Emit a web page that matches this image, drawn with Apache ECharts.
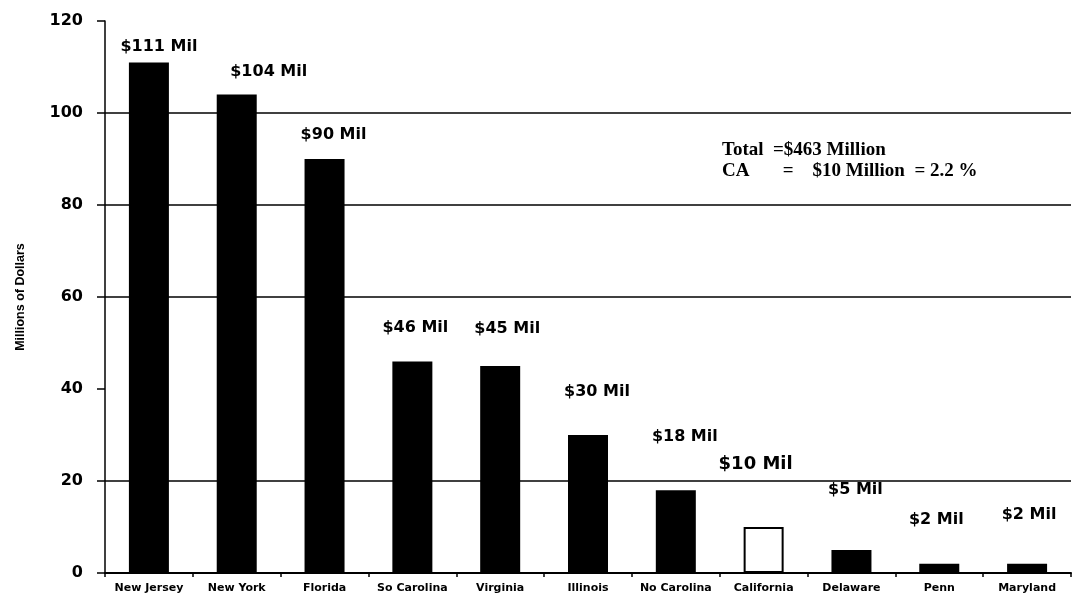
<!DOCTYPE html>
<html>
<head>
<meta charset="utf-8">
<script src="https://cdn.jsdelivr.net/npm/echarts@6/dist/echarts.min.js"></script>
<style>
html,body{margin:0;padding:0;background:#fff;}
#chart{width:1076px;height:599px;}
</style>
</head>
<body>
<div id="chart"></div>
<script>
// ---- data ----
const states = ['New Jersey','New York','Florida','So Carolina','Virginia','Illinois','No Carolina','California','Delaware','Penn','Maryland'];
const spending = [111, 104, 90, 46, 45, 30, 18, 10, 5, 2, 2];
const valueLabels = ['$111 Mil','$104 Mil','$90 Mil','$46 Mil','$45 Mil','$30 Mil','$18 Mil','$10 Mil','$5 Mil','$2 Mil','$2 Mil'];
// heights (in millions) at which the value labels sit on the picture
const labelHeights = [114.3, 108.9, 95.2, 53.3, 53.0, 39.3, 29.6, 23.7, 18.0, 11.5, 12.6];
const yTicks = [0, 20, 40, 60, 80, 100, 120];
const drawnGridLines = [20, 60, 80, 100];
const highlightState = 'California';
const noteLines = ['Total  =$463 Million', 'CA       =    $10 Million  = 2.2 %'];

// ---- presentation ----
const labelDx = [10, 32, 9, 3, 7, 9, 9, -8, 4, -3, 2];

const chart = echarts.init(document.getElementById('chart'));
const option = {
  animation: false,
  backgroundColor: '#fff',
  grid: { left: 105, right: 5, top: 21, bottom: 26, containLabel: false, outerBoundsMode: 'none' },
  xAxis: {
    type: 'category',
    data: states,
    boundaryGap: true,
    axisLine: { show: true, lineStyle: { color: '#000', width: 2 } },
    axisTick: { show: true, length: 4, lineStyle: { color: '#000', width: 1.5 } },
    axisLabel: {
      color: '#000', fontFamily: 'DejaVu Sans', fontWeight: 'bold', fontSize: 11,
      margin: 10, interval: 0
    },
    splitLine: { show: false }
  },
  yAxis: {
    type: 'value',
    min: yTicks[0], max: yTicks[yTicks.length - 1], interval: yTicks[1] - yTicks[0],
    name: 'Millions of Dollars',
    nameLocation: 'middle',
    nameGap: 78,
    nameRotate: 90,
    nameTextStyle: {
      color: '#000', fontFamily: '"Liberation Sans", Arial, sans-serif',
      fontWeight: 'bold', fontSize: 12.5
    },
    axisLine: { show: true, lineStyle: { color: '#000', width: 1.5 } },
    axisTick: { show: true, inside: false, length: 8, lineStyle: { color: '#000', width: 1.5 } },
    axisLabel: {
      color: '#000', fontFamily: 'DejaVu Sans', fontWeight: 'bold', fontSize: 16, margin: 22,
      formatter: function (v) { return yTicks.indexOf(v) >= 0 ? String(v) : ''; }
    },
    splitLine: { show: false }
  },
  series: [
    {
      type: 'bar',
      barWidth: 40,
      data: spending.map(function (v, i) {
        const hl = states[i] === highlightState;
        return {
          value: v,
          itemStyle: hl ? { color: '#fff', borderColor: '#000', borderWidth: 2 } : { color: '#000' }
        };
      }),
      markLine: {
        silent: true,
        symbol: 'none',
        label: { show: false },
        lineStyle: { color: '#000', width: 1.5, type: 'solid' },
        data: drawnGridLines.map(function (v) { return { yAxis: v }; })
      },
      z: 3
    },
    {
      type: 'scatter',
      symbolSize: 0,
      silent: true,
      itemStyle: { color: '#000', opacity: 1 },
      label: {
        show: true,
        position: 'inside',
        color: '#000',
        fontFamily: 'DejaVu Sans',
        fontWeight: 'bold',
        fontSize: 16,
        formatter: function (p) { return valueLabels[p.dataIndex]; }
      },
      data: labelHeights.map(function (h, i) {
        const hl = states[i] === highlightState;
        return {
          value: [states[i], h],
          label: {
            offset: [labelDx[i], 0],
            color: '#000',
            fontSize: hl ? 18 : 16,
            fontWeight: hl ? 900 : 'bold'
          }
        };
      }),
      z: 5
    }
  ],
  graphic: [
    {
      type: 'text', left: 722, top: 141,
      style: { text: noteLines[0], fill: '#000', font: 'bold 19px "Liberation Serif", "Times New Roman", serif' }
    },
    {
      type: 'text', left: 722, top: 162,
      style: { text: noteLines[1], fill: '#000', font: 'bold 19px "Liberation Serif", "Times New Roman", serif' }
    }
  ]
};
chart.setOption(option);
</script>
</body>
</html>
